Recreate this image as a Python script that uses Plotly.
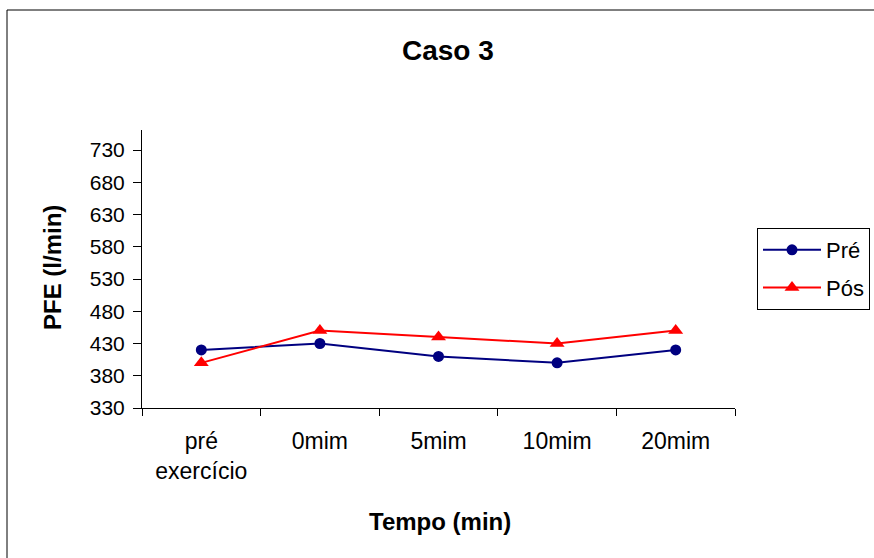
import plotly.graph_objects as go

# PFE readings per moment
categorias = ["pré<br>exercício", "0mim", "5mim", "10mim", "20mim"]
pre = [420, 430, 410, 400, 420]
pos = [400, 450, 440, 430, 450]
yticks = [330, 380, 430, 480, 530, 580, 630, 680, 730]

FONT = "Liberation Sans, Arial, sans-serif"

W, H = 874, 558
L, R, T, B = 142, 139, 130, 150
pw, ph = W - L - R, H - T - B


def px_x(x):
    return (x - L) / pw


def px_y(y):
    return (H - B - y) / ph


fig = go.Figure()
fig.add_trace(go.Scatter(
    x=categorias, y=pre, name="Pré", mode="lines+markers",
    line=dict(color="#000080", width=2),
    marker=dict(symbol="circle", size=11, color="#000080"),
    legendgroup="a",
))
fig.add_trace(go.Scatter(
    x=categorias, y=pos, name="Pós", mode="lines+markers",
    line=dict(color="#FF0000", width=2),
    marker=dict(symbol="triangle-up", size=13, color="#FF0000"),
    legendgroup="b",
))

fig.update_layout(
    width=W, height=H,
    margin=dict(l=L, r=R, t=T, b=B, autoexpand=False),
    paper_bgcolor="white", plot_bgcolor="white",
    font=dict(family=FONT, color="black", size=21),
    showlegend=True,
    legend=dict(
        x=px_x(757), y=px_y(228), xanchor="left", yanchor="top",
        bordercolor="black", borderwidth=1, bgcolor="white",
        font=dict(size=22), traceorder="grouped", tracegroupgap=6,
        itemwidth=58,
    ),
    xaxis=dict(
        type="category", range=[-0.5, 4.5], showgrid=False, zeroline=False,
        showline=True, linecolor="black", linewidth=1,
        ticks="outside", tickson="boundaries", ticklen=7, tickcolor="black",
        ticklabelstandoff=12, tickfont=dict(size=23),
    ),
    yaxis=dict(
        range=[330, 761], tickvals=yticks, showgrid=False, zeroline=False,
        showline=True, linecolor="black", linewidth=1,
        ticks="outside", ticklen=8, tickcolor="black",
        ticklabelstandoff=4, tickfont=dict(size=21),
    ),
    shapes=[dict(
        type="rect", xref="paper", yref="paper",
        x0=px_x(7), y0=px_y(700), x1=px_x(900), y1=px_y(10),
        line=dict(color="black", width=1), fillcolor="rgba(0,0,0,0)",
        layer="below",
    )],
    annotations=[
        dict(text="<b>Caso 3</b>", xref="paper", yref="paper",
             x=px_x(448), y=px_y(50), showarrow=False,
             font=dict(size=28), xanchor="center", yanchor="middle"),
        dict(text="<b>Tempo (min)</b>", xref="paper", yref="paper",
             x=px_x(440), y=px_y(521), showarrow=False,
             font=dict(size=24), xanchor="center", yanchor="middle"),
        dict(text="<b>PFE (l/min)</b>", xref="paper", yref="paper",
             x=px_x(52), y=px_y(268), showarrow=False, textangle=-90,
             font=dict(size=24), xanchor="center", yanchor="middle"),
    ],
)

fig.write_html("out.html")
